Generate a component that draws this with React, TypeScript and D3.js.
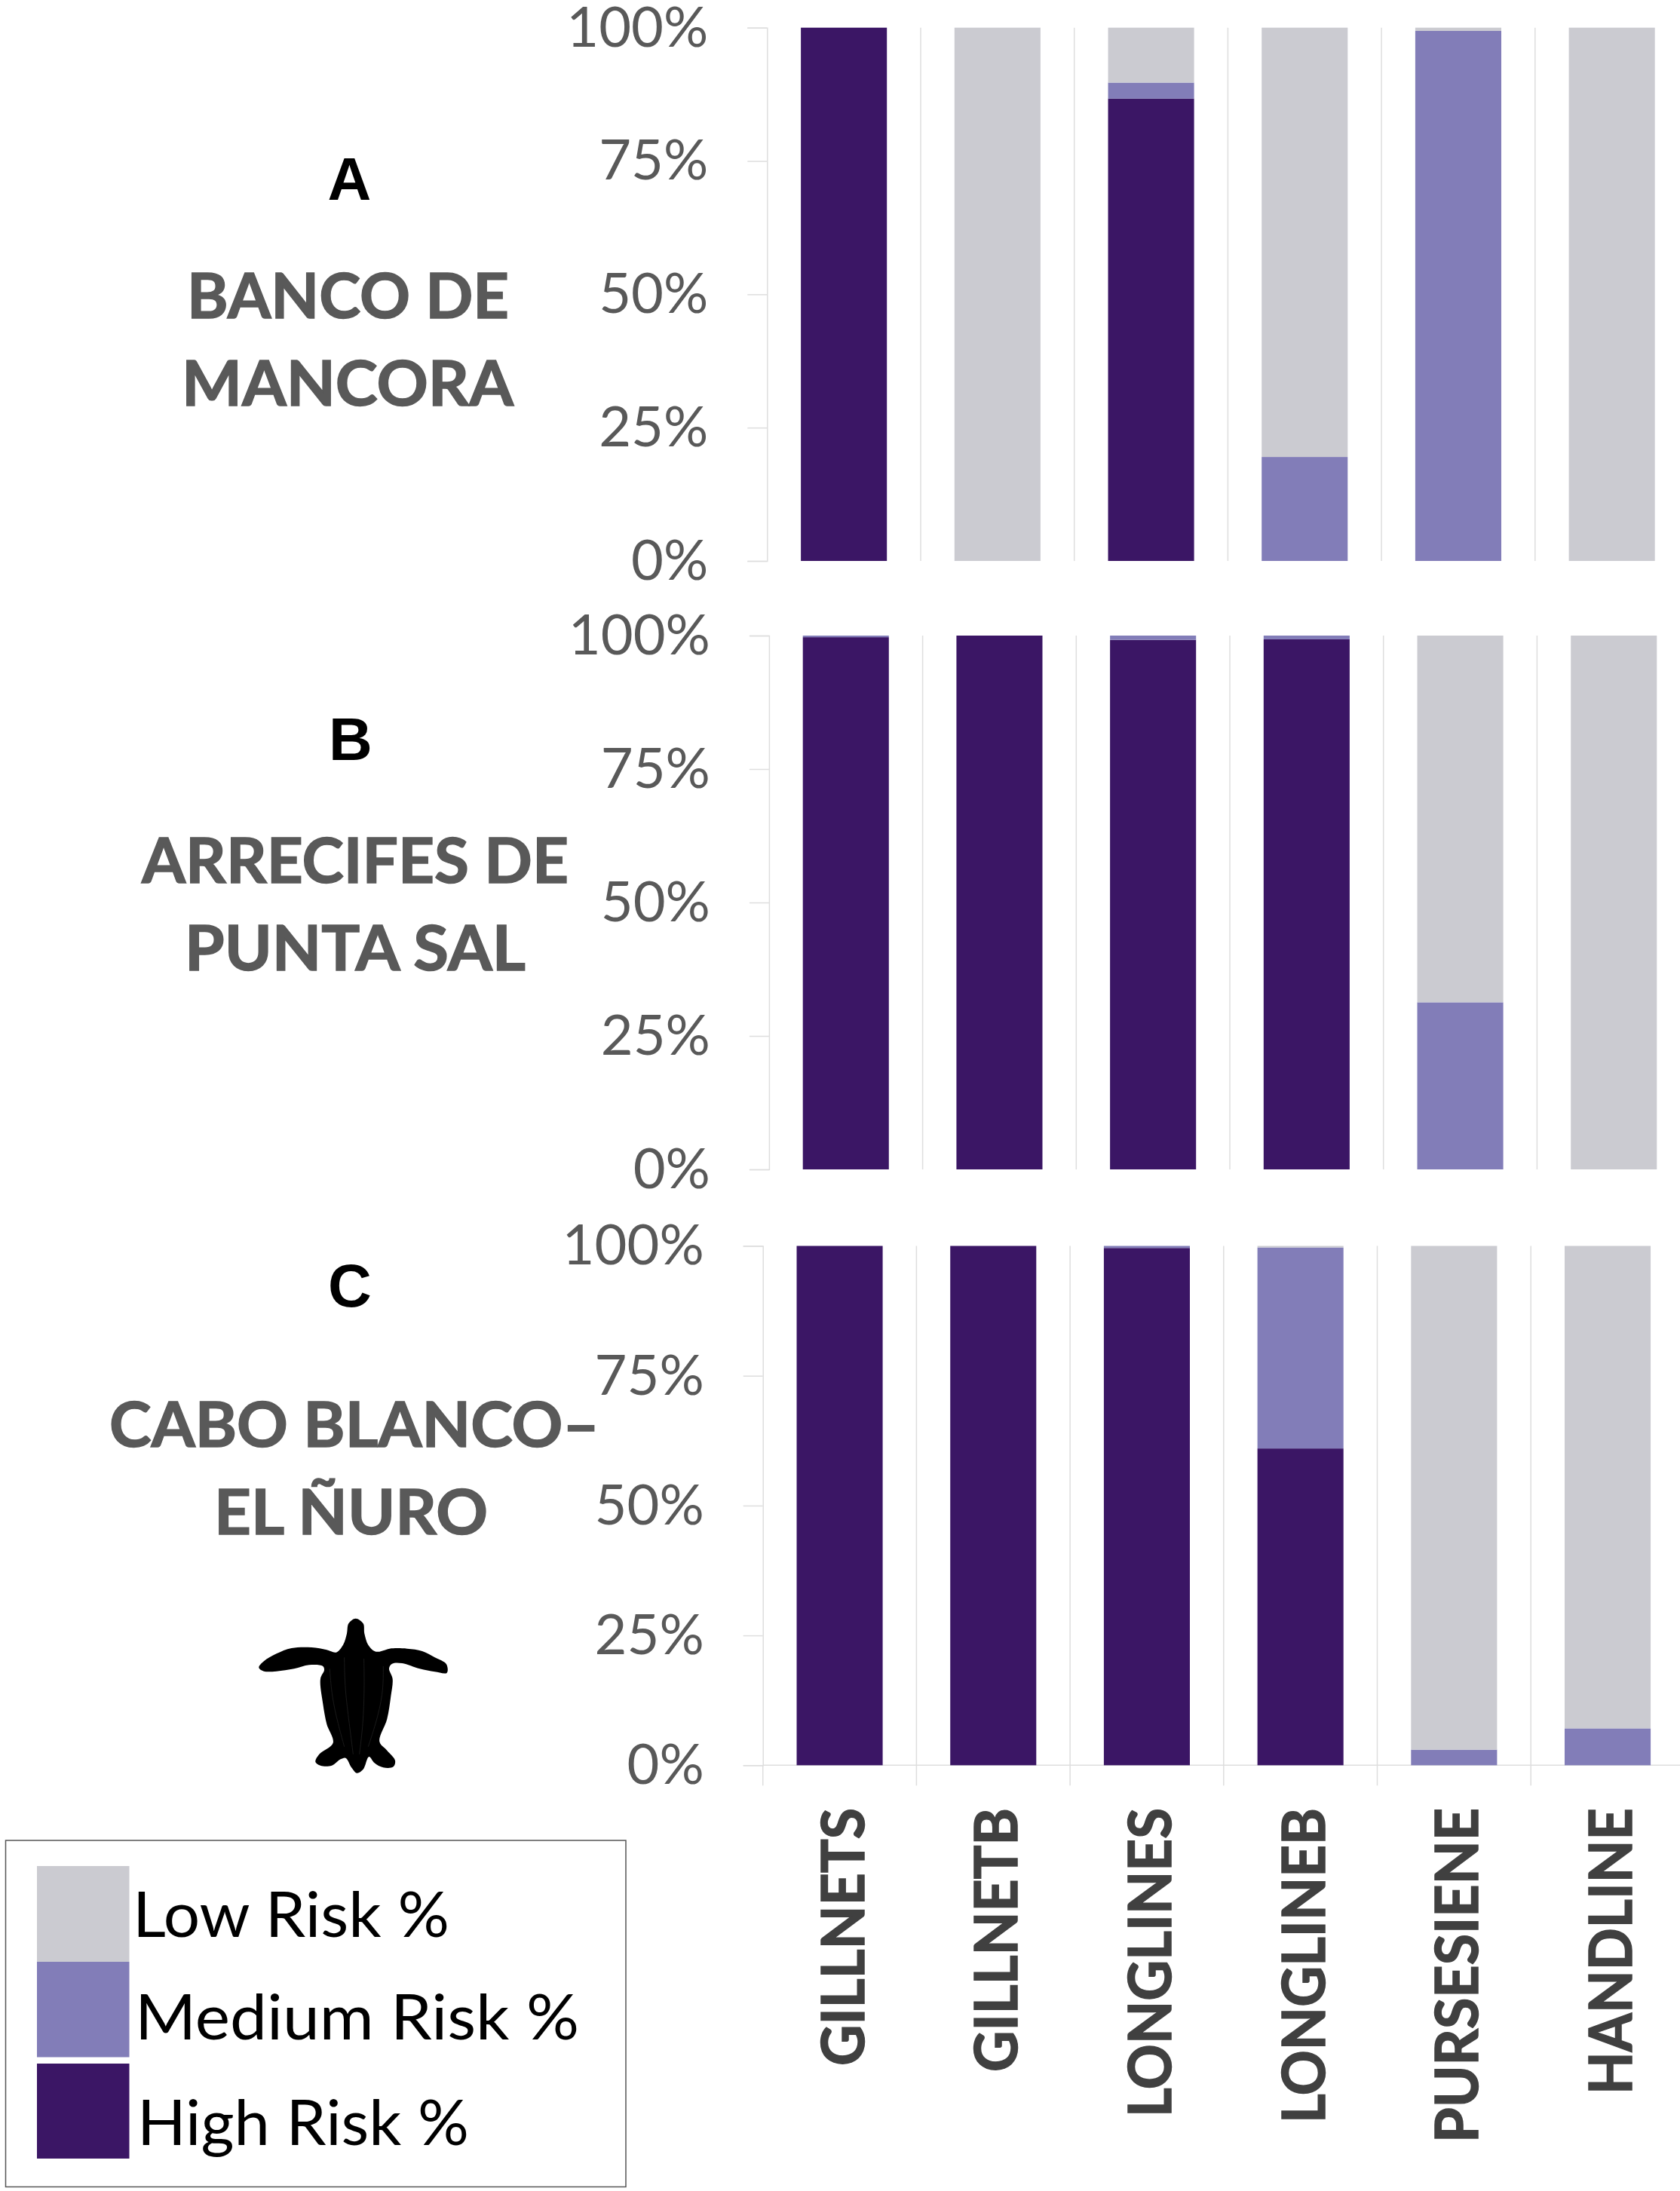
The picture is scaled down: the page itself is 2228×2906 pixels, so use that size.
import { useRef, useEffect } from "react";
import * as d3 from "d3";

const categories = ["GILLNETS", "GILLNETB", "LONGLINES", "LONGLINEB", "PURSESIENE", "HANDLINE"];
const riskKeys = ["high", "medium", "low"];
const riskLabels = ["Low Risk %", "Medium Risk %", "High Risk %"];
const yTicks = [0, 0.25, 0.5, 0.75, 1];

const highA = [100, 0, 86.7, 0, 0, 0];
const mediumA = [0, 0, 3, 19.5, 99.4, 0];
const lowA = [0, 100, 10.3, 80.5, 0.6, 100];

const highB = [99.7, 100, 99.2, 99.3, 0, 0];
const mediumB = [0.3, 0, 0.8, 0.7, 31.3, 0];
const lowB = [0, 0, 0, 0, 68.7, 100];

const highC = [100, 100, 99.6, 61, 0, 0];
const mediumC = [0, 0, 0.4, 38.7, 3, 7.1];
const lowC = [0, 0, 0, 0.3, 97, 92.9];

const colors = { low: "#cbcbd1", medium: "#827db8", high: "#3b1665" };

// outline of the hatchling
const turtleOutline = [
	[515, 140], [545, 160], [550, 200], [565, 245], [590, 270], [610, 272], [650, 260], [720, 260],
	[780, 270], [830, 295], [876, 322], [878, 356], [830, 352], [770, 340], [700, 318], [660, 320],
	[648, 338], [662, 380], [655, 450], [640, 540], [610, 630], [640, 665], [672, 705], [665, 730],
	[625, 733], [590, 715], [568, 690], [545, 740], [520, 755], [500, 735], [475, 695], [455, 700],
	[420, 725], [375, 725], [355, 710], [370, 680], [425, 635], [400, 560], [385, 480], [375, 380],
	[390, 345], [385, 330], [330, 325], [270, 340], [200, 350], [150, 350], [130, 335], [150, 310],
	[200, 280], [260, 258], [340, 255], [400, 265], [437, 275], [465, 245], [480, 200], [487, 160],
];

const W = 2228;
const H = 2906;
const STEP = 203.7;
const BAR_PADDING = 0.44;

const panels = [
	{ high: highA, medium: mediumA, low: lowA, x0: 1017.3, top: 36.7, bottom: 744 },
	{ high: highB, medium: mediumB, low: lowB, x0: 1019.9, top: 843, bottom: 1551 },
	{ high: highC, medium: mediumC, low: lowC, x0: 1011.7, top: 1652.5, bottom: 2341.3 },
];

// heading lines: text, start and end of the advance box, baseline
const headings = [
	{ text: "BANCO DE", x0: 248, x1: 675, y: 422 },
	{ text: "MANCORA", x0: 241, x1: 681, y: 538 },
	{ text: "ARRECIFES DE", x0: 188, x1: 754, y: 1171 },
	{ text: "PUNTA SAL", x0: 245, x1: 697, y: 1287 },
	{ text: "CABO BLANCO–", x0: 145, x1: 795, y: 1919 },
	{ text: "EL ÑURO", x0: 284, x1: 647, y: 2035 },
];

const letters = [
	{ text: "A", x: 463.5, y: 265 },
	{ text: "B", x: 465, y: 1008 },
	{ text: "C", x: 464, y: 1733 },
];

const categoryLengths = [342, 350, 410, 418, 444, 380];

const legendText = [
	{ x: 176, y: 2569, length: 420 },
	{ x: 179, y: 2705, length: 589 },
	{ x: 182, y: 2845, length: 440 },
];
const legendSwatches = [
	{ y: 2475, h: 127 },
	{ y: 2602, h: 126.5 },
	{ y: 2737, h: 126 },
];

export default function App() {
	const svgRef = useRef(null);

	useEffect(() => {
		const svg = d3.select(svgRef.current);
		svg.selectAll("*").remove();

		svg.append("rect").attr("width", W).attr("height", H).attr("fill", "#fff");

		panels.forEach((panel, p) => {
			const g = svg.append("g");

			const x = d3
				.scaleBand()
				.domain(categories)
				.range([panel.x0, panel.x0 + STEP * categories.length])
				.paddingInner(BAR_PADDING)
				.paddingOuter(BAR_PADDING / 2);

			const y = d3.scaleLinear().domain([0, 100]).range([panel.bottom, panel.top]);

			const rows = categories.map((c, i) => ({
				category: c,
				high: panel.high[i],
				medium: panel.medium[i],
				low: panel.low[i],
			}));
			const series = d3.stack().keys(riskKeys)(rows);

			// separators between the gears
			const isLast = p === panels.length - 1;
			g.selectAll(".sep")
				.data(d3.range(1, categories.length))
				.enter()
				.append("line")
				.attr("x1", (i) => panel.x0 + i * x.step())
				.attr("x2", (i) => panel.x0 + i * x.step())
				.attr("y1", panel.top)
				.attr("y2", isLast ? panel.bottom + 27 : panel.bottom)
				.attr("stroke", "#dedede")
				.attr("stroke-width", 1.5);

			if (isLast) {
				g.append("line")
					.attr("x1", panel.x0)
					.attr("x2", W)
					.attr("y1", panel.bottom)
					.attr("y2", panel.bottom)
					.attr("stroke", "#dedede")
					.attr("stroke-width", 1.5);
				g.append("line")
					.attr("x1", panel.x0)
					.attr("x2", panel.x0)
					.attr("y1", panel.bottom)
					.attr("y2", panel.bottom + 27)
					.attr("stroke", "#dedede")
					.attr("stroke-width", 1.5);
			}

			// Add bars
			g.selectAll(".layer")
				.data(series)
				.enter()
				.append("g")
				.attr("fill", (s) => colors[s.key])
				.selectAll("rect")
				.data((s) => s)
				.enter()
				.append("rect")
				.attr("x", (d) => x(d.data.category))
				.attr("y", (d) => y(d[1]))
				.attr("width", x.bandwidth())
				.attr("height", (d) => y(d[0]) - y(d[1]));

			// Add y-axis
			const axis = g
				.append("g")
				.attr("transform", `translate(${panel.x0},0)`)
				.call(
					d3
						.axisLeft(y)
						.tickValues(yTicks.map((t) => t * 100))
						.tickFormat((t) => `${t}%`)
						.tickSize(26)
						.tickPadding(52),
				);
			axis.select(".domain").attr("stroke", "#dedede").attr("stroke-width", 1.5);
			axis.selectAll(".tick line").attr("stroke", "#dedede").attr("stroke-width", 1.5);
			axis.selectAll(".tick text")
				.attr("dy", "0.33em")
				.attr("fill", "#595959")
				.style("font-family", "Lato, sans-serif")
				.style("font-size", "74px");

			// gear names under the last panel only
			if (isLast) {
				g.selectAll(".cat")
					.data(categories)
					.enter()
					.append("text")
					.attr(
						"transform",
						(c) => `translate(${x(c) + x.bandwidth() / 2 + 32},2398) rotate(-90)`,
					)
					.attr("text-anchor", "end")
					.attr("fill", "#404040")
					.attr("stroke", "#404040")
					.attr("stroke-width", 1.5)
					.attr("textLength", (c, i) => categoryLengths[i])
					.attr("lengthAdjust", "spacingAndGlyphs")
					.style("font-family", "Lato, sans-serif")
					.style("font-weight", 700)
					.style("font-size", "78px")
					.text((c) => c);
			}
		});

		// Panel letters and place names
		svg.selectAll(".letter")
			.data(letters)
			.enter()
			.append("text")
			.attr("x", (d) => d.x)
			.attr("y", (d) => d.y)
			.attr("text-anchor", "middle")
			.attr("fill", "#000")
			.style("font-family", "'Liberation Sans', sans-serif")
			.style("font-weight", 700)
			.style("font-size", "80px")
			.text((d) => d.text);

		svg.selectAll(".heading")
			.data(headings)
			.enter()
			.append("text")
			.attr("x", (d) => d.x0)
			.attr("y", (d) => d.y)
			.attr("textLength", (d) => d.x1 - d.x0)
			.attr("lengthAdjust", "spacingAndGlyphs")
			.attr("fill", "#595959")
			.attr("stroke", "#595959")
			.attr("stroke-width", 1.5)
			.style("font-family", "Lato, sans-serif")
			.style("font-weight", 700)
			.style("font-size", "83px")
			.text((d) => d.text);

		// Turtle
		const turtle = svg
			.append("g")
			.attr("transform", "translate(300,2100) scale(0.3333)");
		turtle
			.append("path")
			.attr("d", d3.line().curve(d3.curveCatmullRomClosed.alpha(0.5))(turtleOutline))
			.attr("fill", "#000");
		[
			[[412, 340], [420, 450], [445, 560], [470, 650]],
			[[470, 295], [472, 420], [490, 560], [505, 680]],
			[[548, 300], [550, 420], [545, 560], [530, 680]],
			[[625, 330], [625, 440], [595, 560], [565, 650]],
		].forEach((ridge) => {
			turtle
				.append("path")
				.attr("d", d3.line().curve(d3.curveBasis)(ridge))
				.attr("fill", "none")
				.attr("stroke", "#1a1a1a")
				.attr("stroke-width", 3);
		});

		// Legend
		const legend = svg.append("g");
		legend
			.append("rect")
			.attr("x", 7.5)
			.attr("y", 2441)
			.attr("width", 822.5)
			.attr("height", 459.5)
			.attr("fill", "#fff")
			.attr("stroke", "#555")
			.attr("stroke-width", 1.5);
		legend
			.selectAll(".swatch")
			.data(legendSwatches)
			.enter()
			.append("rect")
			.attr("x", 49)
			.attr("y", (d) => d.y)
			.attr("width", 122.5)
			.attr("height", (d) => d.h)
			.attr("fill", (d, i) => [colors.low, colors.medium, colors.high][i]);
		legend
			.selectAll(".label")
			.data(legendText)
			.enter()
			.append("text")
			.attr("x", (d) => d.x)
			.attr("y", (d) => d.y)
			.attr("textLength", (d) => d.length)
			.attr("lengthAdjust", "spacingAndGlyphs")
			.attr("fill", "#000")
			.style("font-family", "Lato, sans-serif")
			.style("font-size", "83px")
			.text((d, i) => riskLabels[i]);
	}, []);

	return (
		<svg
			ref={svgRef}
			width={W}
			height={H}
			style={{ position: "absolute", left: 0, top: 0, display: "block" }}
		></svg>
	);
}
